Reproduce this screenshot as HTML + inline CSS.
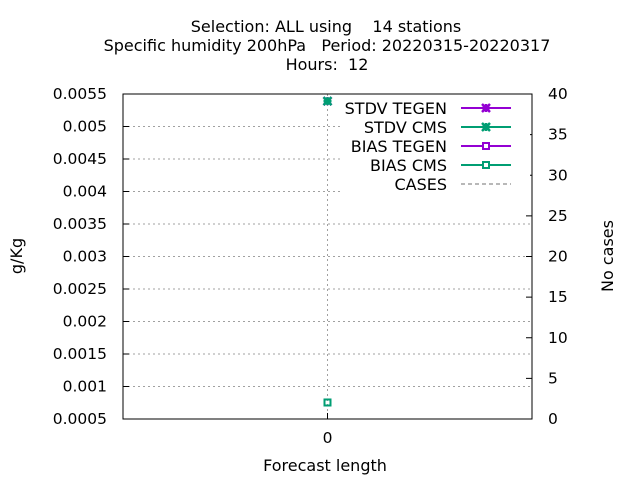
<!DOCTYPE html>
<html><head><meta charset="utf-8"><style>body{margin:0;background:#fff}svg{display:block;font-family:"DejaVu Sans","Liberation Sans",sans-serif}text{white-space:pre}</style></head>
<body>
<svg id="c" width="640" height="480">
<text x="326" y="32" font-size="16" text-anchor="middle">Selection: ALL using    14 stations</text>
<text x="327" y="51" font-size="16" text-anchor="middle">Specific humidity 200hPa   Period: 20220315-20220317</text>
<text x="327" y="70" font-size="16" text-anchor="middle">Hours:  12</text>
<text x="325" y="471" font-size="16" text-anchor="middle">Forecast length</text>
<text transform="translate(22,256) rotate(-90)" font-size="16" text-anchor="middle">g/Kg</text>
<text transform="translate(613,256) rotate(-90)" font-size="16" text-anchor="middle">No cases</text>
<g id="grid"></g><g id="marks"></g><g id="axes"></g>
</svg>
<script>
const xCats=[0];
const leftTicks=[0.0005,0.001,0.0015,0.002,0.0025,0.003,0.0035,0.004,0.0045,0.005,0.0055];
const leftLabels=["0.0005","0.001","0.0015","0.002","0.0025","0.003","0.0035","0.004","0.0045","0.005","0.0055"];
const rightTicks=[0,5,10,15,20,25,30,35,40];
const stdvTegen=[0.00539];
const stdvCms=[0.00539];
const biasTegen=[0.000754];
const biasCms=[0.000754];
const cases=[14];
const L=123,R=532,T=94,B=419,NS="http://www.w3.org/2000/svg";
const xs=v=>L+(v-(-1))/2*(R-L);
const ys=v=>B-(v-0.0005)/0.005*(B-T);
const y2=v=>B-v/40*(B-T);
function mk(p,t,a){const e=document.createElementNS(NS,t);for(const k in a)e.setAttribute(k,a[k]);document.getElementById(p).appendChild(e);return e;}
leftTicks.forEach((v,i)=>{const y=ys(v);
 if(i>0&&i<leftTicks.length-1){const g=mk('grid','line',{x1:L,x2:R,y1:y,y2:y,stroke:'#a0a0a0','stroke-dasharray':'2,3'});
 
 }
 const t=mk('axes','line',{x1:L,x2:L+6,y1:y,y2:y,stroke:'#000'});
 
 
 const l=mk('axes','text',{x:L-16,y:y+5,'font-size':15.5,'text-anchor':'end'});l.textContent=leftLabels[i];
 
 });
rightTicks.forEach(v=>{const y=y2(v);
 const t=mk('axes','line',{x1:R-6,x2:R,y1:y,y2:y,stroke:'#000'});
 
 
 const l=mk('axes','text',{x:548,y:y+5,'font-size':15.5});l.textContent=v;
 
 });
xCats.forEach(v=>{const x=xs(v);
 const g=mk('grid','line',{x1:x,x2:x,y1:T,y2:B,stroke:'#a0a0a0','stroke-dasharray':'2,3'});
 
 
 const t=mk('axes','line',{x1:x,x2:x,y1:B-6,y2:B,stroke:'#000'});
 
 
 const l=mk('axes','text',{x:x,y:443,'font-size':15.5,'text-anchor':'middle'});l.textContent=v;
 
 });
const fr=mk('axes','rect',{x:L,y:T,width:R-L,height:B-T,fill:'none',stroke:'#000'});


function star(x,y,c,n){const g=mk('marks','path',{d:`M${x-4},${y-4}L${x+4},${y+4}M${x-4},${y+4}L${x+4},${y-4}M${x-4},${y}L${x+4},${y}M${x},${y-4}L${x},${y+4}`,stroke:c,'stroke-width':2.5});
 
 }
function sq(x,y,c,n){const g=mk('marks','rect',{x:x-3,y:y-3,width:6,height:6,fill:'none',stroke:c,'stroke-width':2});
 
 }
xCats.forEach((v,i)=>{const x=xs(v);
 star(x,ys(stdvTegen[i]),'#9400d3','stdv-tegen-point');
 star(x,ys(stdvCms[i]),'#009e73','stdv-cms-point');
 sq(x,ys(biasTegen[i]),'#9400d3','bias-tegen-point');
 sq(x,ys(biasCms[i]),'#009e73','bias-cms-point');});
const lb=mk('axes','rect',{x:341,y:96,width:189,height:100,fill:'#fff'});


const leg=[["STDV TEGEN",'#9400d3','star'],["STDV CMS",'#009e73','star'],["BIAS TEGEN",'#9400d3','sq'],["BIAS CMS",'#009e73','sq'],["CASES",'#a0a0a0','dash']];
leg.forEach((e,i)=>{const y=108+i*19;
 const t=mk('axes','text',{x:447,y:y+6,'font-size':16,'text-anchor':'end'});t.textContent=e[0];
 
 
 const ln=mk('axes','line',{x1:461,x2:511,y1:y,y2:y,stroke:e[1],'stroke-width':e[2]=='dash'?1.5:2,'stroke-dasharray':e[2]=='dash'?'4,3':'none'});
 
 
 if(e[2]=='star'){const g=mk('axes','path',{d:`M482,${y-4}L490,${y+4}M482,${y+4}L490,${y-4}M482,${y}L490,${y}M486,${y-4}L486,${y+4}`,stroke:e[1],'stroke-width':2.5});
  
  }
 if(e[2]=='sq'){const g=mk('axes','rect',{x:483,y:y-3,width:6,height:6,fill:'#fff',stroke:e[1],'stroke-width':2});
  
  }});
</script>
</body></html>
